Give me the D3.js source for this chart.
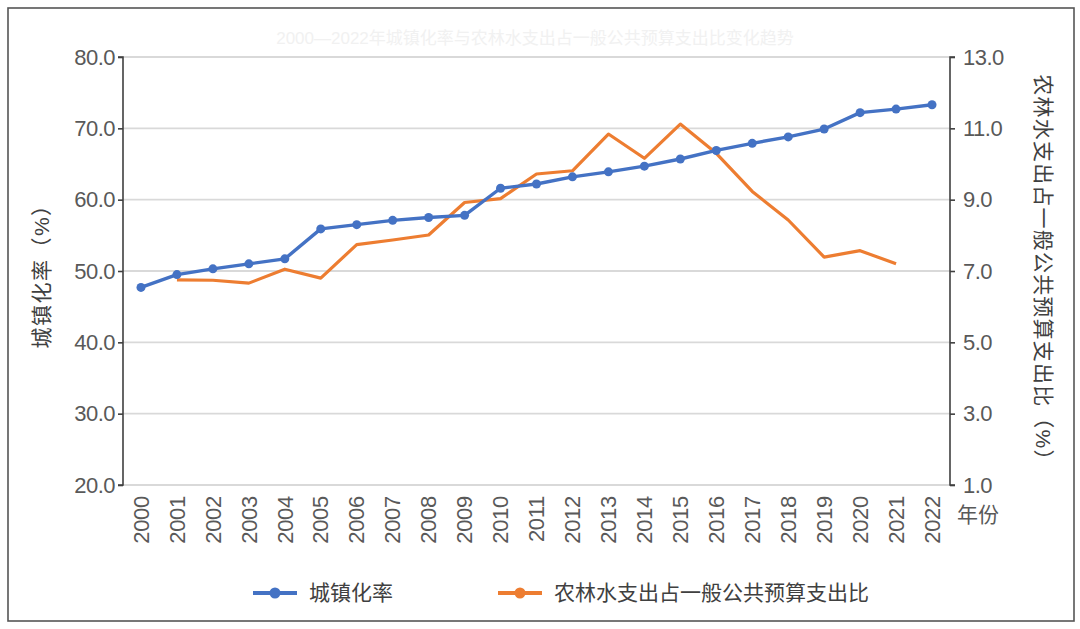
<!DOCTYPE html>
<html><head><meta charset="utf-8">
<script src="https://cdn.jsdelivr.net/npm/d3@7"></script>
<style>
html,body{margin:0;padding:0;background:#fff;}
svg{display:block;}
text{font-family:"Liberation Sans","Noto Sans CJK SC",sans-serif;}
</style></head>
<body>
<svg id="chart" width="1080" height="629"></svg>
<script>
const years = ["2000","2001","2002","2003","2004","2005","2006","2007","2008","2009","2010","2011","2012","2013","2014","2015","2016","2017","2018","2019","2020","2021","2022"];
const urbanRate = [47.7,49.5,50.3,51.0,51.7,55.9,56.5,57.1,57.5,57.8,61.6,62.2,63.2,63.9,64.7,65.7,66.9,67.9,68.8,69.9,72.2,72.7,73.3];
const agriShare = [null,6.75,6.74,6.66,7.05,6.80,7.74,7.87,8.01,8.92,9.03,9.72,9.81,10.84,10.16,11.12,10.30,9.23,8.43,7.39,7.57,7.20,null];
const leftTicks = [20,30,40,50,60,70,80];
const rightTicks = [1,3,5,7,9,11,13];
const seriesNames = ["城镇化率","农林水支出占一般公共预算支出比"];
const leftTitle = "城镇化率（%）";
const rightTitle = "农林水支出占一般公共预算支出比（%）";
const xTitle = "年份";
const chartTitle = "2000—2022年城镇化率与农林水支出占一般公共预算支出比变化趋势";

const svg = d3.select("#chart");
const L = 123, R = 950, T = 57, B = 485;
const blue = "#4472C4", orange = "#ED7D31";
const labelColor = "#595959";

// frame
svg.append("rect").attr("x",8).attr("y",8).attr("width",1066).attr("height",613)
  .attr("fill","none").attr("stroke","#555").attr("stroke-width",1.6);

// faint title
svg.append("text").attr("x",535).attr("y",44).attr("text-anchor","middle")
  .attr("font-size",17).attr("fill","#f1f1f1").text(chartTitle);

const x = d3.scaleBand().domain(years).range([L,R]);
const cx = d => x(d) + x.bandwidth()/2;
const yL = d3.scaleLinear().domain([20,80]).range([B,T]);
const yR = d3.scaleLinear().domain([1,13]).range([B,T]);

// gridlines
svg.append("g").selectAll("line").data(leftTicks).join("line")
  .attr("x1",L).attr("x2",R).attr("y1",d=>yL(d)).attr("y2",d=>yL(d))
  .attr("stroke","#d9d9d9").attr("stroke-width",1.8);

// left axis
const gl = svg.append("g").attr("transform",`translate(${L},0)`)
  .call(d3.axisLeft(yL).tickValues(leftTicks).tickFormat(d3.format(".1f")).tickSize(5).tickPadding(3));
gl.select(".domain").attr("stroke","#404040").attr("stroke-width",1.6).attr("d",`M-5,${T}H0V${B}H-5`);
gl.selectAll(".tick line").attr("stroke","#404040").attr("stroke-width",1.6);
gl.selectAll(".tick text").attr("font-size",22).attr("fill",labelColor)
  .attr("font-family","Liberation Sans, sans-serif").attr("letter-spacing","-0.5px");

// right axis
const gr = svg.append("g").attr("transform",`translate(${R},0)`)
  .call(d3.axisRight(yR).tickValues(rightTicks).tickFormat(d3.format(".1f")).tickSize(5).tickPadding(8));
gr.select(".domain").attr("stroke","#404040").attr("stroke-width",1.6).attr("d",`M5,${T}H0V${B}H5`);
gr.selectAll(".tick line").attr("stroke","#404040").attr("stroke-width",1.6);
gr.selectAll(".tick text").attr("font-size",22).attr("fill",labelColor)
  .attr("font-family","Liberation Sans, sans-serif").attr("letter-spacing","-0.5px");

// x axis labels
const gx = svg.append("g").attr("transform",`translate(0,${B})`)
  .call(d3.axisBottom(x).tickSize(0).tickPadding(0));
gx.select(".domain").remove();
gx.selectAll(".tick text")
  .attr("font-size",22).attr("fill",labelColor)
  .attr("font-family","Liberation Sans, sans-serif")
  .attr("text-anchor","end").attr("dy","0.35em")
  .attr("transform","translate(0,11) rotate(-90)").attr("x",0).attr("y",0)
  .attr("letter-spacing","-0.3px");

svg.append("text").attr("x",957).attr("y",522).attr("font-size",21).attr("fill",labelColor).text(xTitle);

// axis titles
svg.append("text").attr("transform",`translate(49,${(T+B)/2}) rotate(-90)`)
  .attr("text-anchor","middle").attr("font-size",21).attr("letter-spacing","1.5px")
  .attr("fill","#404040").text(leftTitle);
svg.append("text").attr("transform",`translate(1036,${(T+B)/2+2}) rotate(90)`)
  .attr("text-anchor","middle").attr("font-size",21).attr("letter-spacing","1.2px")
  .attr("fill","#404040").text(rightTitle);

// orange line
const lineR = d3.line().defined(d=>d.v!=null).x(d=>cx(d.y)).y(d=>yR(d.v));
const oData = years.map((y,i)=>({y, v: agriShare[i]}));
svg.append("path").datum(oData).attr("d",lineR).attr("fill","none")
  .attr("stroke",orange).attr("stroke-width",3.2).attr("stroke-linejoin","round");

// blue line
const lineL = d3.line().x(d=>cx(d.y)).y(d=>yL(d.v));
const bData = years.map((y,i)=>({y, v: urbanRate[i]}));
svg.append("path").datum(bData).attr("d",lineL).attr("fill","none")
  .attr("stroke",blue).attr("stroke-width",3.4).attr("stroke-linejoin","round");
svg.append("g").selectAll("circle").data(bData).join("circle")
  .attr("cx",d=>cx(d.y)).attr("cy",d=>yL(d.v)).attr("r",4.5).attr("fill",blue);

// legend
const leg = [{name:seriesNames[0], c:blue, x:253},{name:seriesNames[1], c:orange, x:498}];
const lg = svg.append("g");
leg.forEach(d=>{
  lg.append("line").attr("x1",d.x).attr("x2",d.x+44).attr("y1",593).attr("y2",593)
    .attr("stroke",d.c).attr("stroke-width",4);
  lg.append("circle").attr("cx",d.x+22).attr("cy",593).attr("r",5.5).attr("fill",d.c);
  lg.append("text").attr("x",d.x+56).attr("y",593).attr("dy","0.35em")
    .attr("font-size",21).attr("fill","#404040").text(d.name);
});
</script>
</body></html>
